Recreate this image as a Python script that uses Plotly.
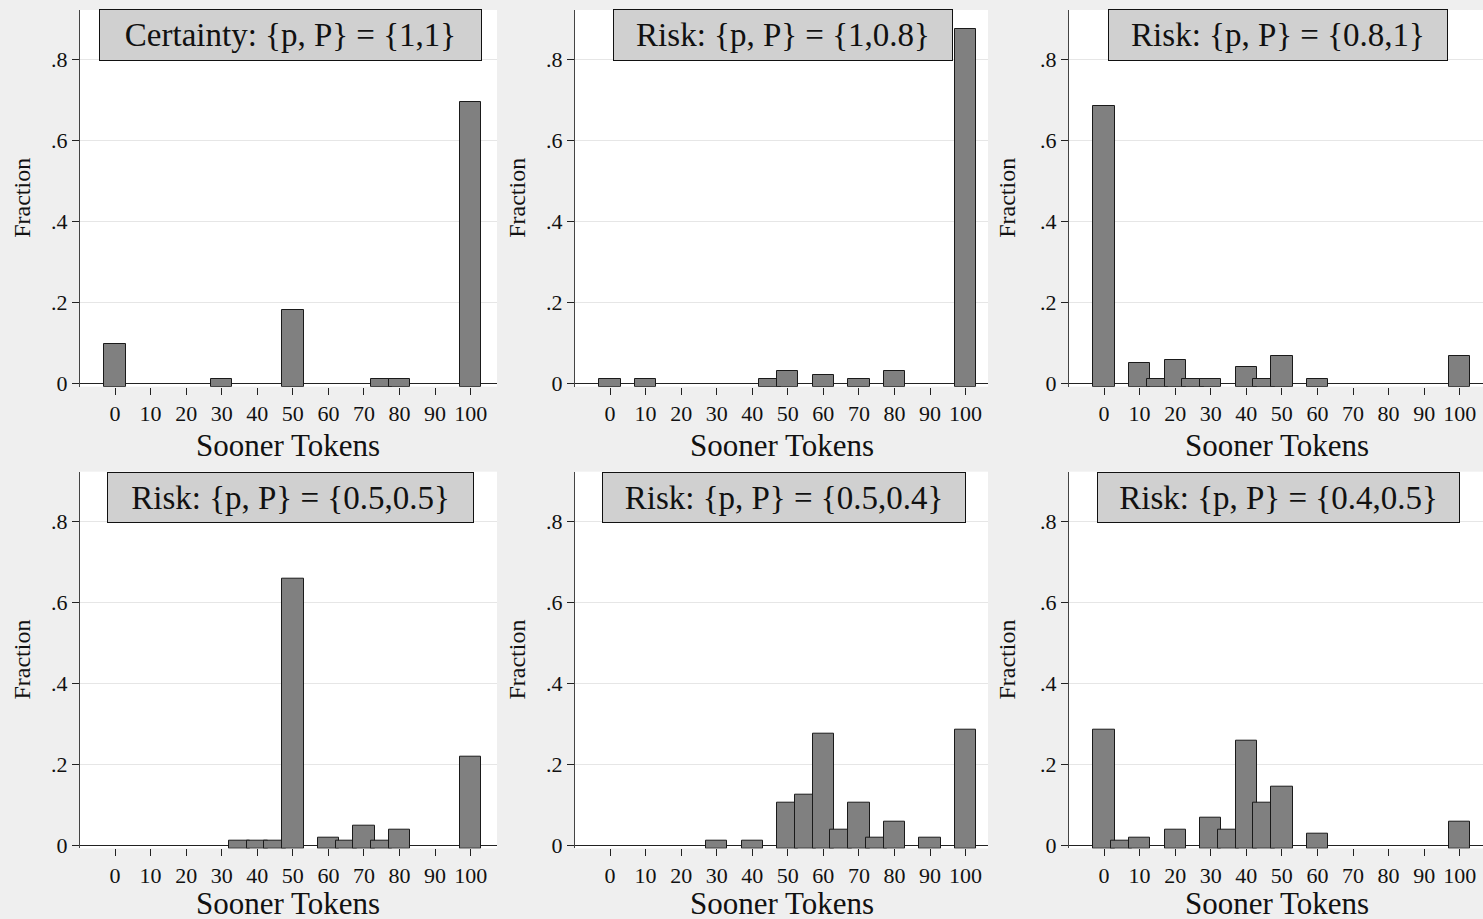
import plotly.graph_objects as go

# ---------------- data ----------------
panel_titles = [
    "Certainty: {p, P} = {1,1}",
    "Risk: {p, P} = {1,0.8}",
    "Risk: {p, P} = {0.8,1}",
    "Risk: {p, P} = {0.5,0.5}",
    "Risk: {p, P} = {0.5,0.4}",
    "Risk: {p, P} = {0.4,0.5}",
]

p1_tokens = [0, 30, 50, 75, 80, 100]
p1_frac = [0.097, 0.010, 0.181, 0.010, 0.010, 0.695]

p2_tokens = [0, 10, 45, 50, 60, 70, 80, 100]
p2_frac = [0.010, 0.010, 0.010, 0.030, 0.020, 0.010, 0.030, 0.875]

p3_tokens = [0, 10, 15, 20, 25, 30, 40, 45, 50, 60, 100]
p3_frac = [0.685, 0.049, 0.010, 0.058, 0.010, 0.010, 0.040, 0.010, 0.067, 0.010, 0.067]

p4_tokens = [35, 40, 45, 50, 60, 65, 70, 75, 80, 100]
p4_frac = [0.010, 0.010, 0.010, 0.657, 0.019, 0.010, 0.047, 0.010, 0.039, 0.219]

p5_tokens = [30, 40, 50, 55, 60, 65, 70, 75, 80, 90, 100]
p5_frac = [0.010, 0.010, 0.105, 0.125, 0.276, 0.039, 0.105, 0.019, 0.058, 0.019, 0.286]

p6_tokens = [0, 5, 10, 20, 30, 35, 40, 45, 50, 60, 100]
p6_frac = [0.286, 0.010, 0.019, 0.039, 0.067, 0.039, 0.257, 0.105, 0.143, 0.029, 0.058]

x_tick_vals = [0, 10, 20, 30, 40, 50, 60, 70, 80, 90, 100]
y_tick_vals = [0, 0.2, 0.4, 0.6, 0.8]
y_tick_text = ["0", ".2", ".4", ".6", ".8"]

x_title = "Sooner Tokens"
y_title = "Fraction"

panels = [
    (p1_tokens, p1_frac), (p2_tokens, p2_frac), (p3_tokens, p3_frac),
    (p4_tokens, p4_frac), (p5_tokens, p5_frac), (p6_tokens, p6_frac),
]

# ---------------- style / layout ----------------
W, H = 1483, 919          # reference frame used for positions
FIG_H = 928               # page height that fills the capture area
FONT = "Liberation Serif"
BAR_WIDTH = 6
BAR_BASE = -0.0084
Y_RANGE = [-0.0084, 0.922]

col_px = [(80, 497), (575, 988), (1069, 1483)]
row_px = [(10, 386.7), (471.7, 848.4)]
x_ranges = [[-9.85, 107.4], [-9.85, 106.3], [-9.85, 106.55]]
box_px = [  # (center x, width, top y, height)
    (290.5, 383, 9, 52), (783, 340, 9, 52), (1278, 340, 9, 52),
    (290.8, 367, 471.7, 51), (783.7, 364, 471.7, 51), (1278.3, 363, 471.7, 51),
]
ytitle_x = [22.5, 517.5, 1007.5]
xtitle_x = [287.5, 781.5, 1276.5]
xtitle_y = [445, 903]

fig = go.Figure()
annotations = []
layout_axes = {}

for i, (tok, frac) in enumerate(panels):
    r, c = divmod(i, 3)
    n = i + 1
    xa = "x" if n == 1 else f"x{n}"
    ya = "y" if n == 1 else f"y{n}"
    fig.add_trace(go.Bar(
        x=tok,
        y=[f - BAR_BASE for f in frac],
        base=BAR_BASE,
        width=BAR_WIDTH,
        marker=dict(color="#808080", line=dict(color="#1a1a1a", width=1)),
        xaxis=xa, yaxis=ya, showlegend=False,
        customdata=frac,
        hovertemplate="%{x}: %{customdata}<extra></extra>",
    ))
    x0, x1 = col_px[c]
    yt, yb = row_px[r]
    xkey = "xaxis" if n == 1 else f"xaxis{n}"
    ykey = "yaxis" if n == 1 else f"yaxis{n}"
    layout_axes[xkey] = dict(
        domain=[x0 / W, x1 / W], range=x_ranges[c], anchor=ya,
        tickvals=x_tick_vals, ticks="outside", ticklen=7, tickcolor="#222",
        showgrid=False, zeroline=False, showline=False,
        tickfont=dict(family=FONT, size=22, color="#111"),
        fixedrange=True,
    )
    layout_axes[ykey] = dict(
        domain=[(H - yb) / H, (H - yt) / H], range=Y_RANGE, anchor=xa,
        tickvals=y_tick_vals, ticktext=y_tick_text, ticks="outside", ticklen=7,
        tickcolor="#222", showline=True, linecolor="#444", linewidth=1,
        showgrid=True, gridcolor="#e6e6e6", gridwidth=1,
        zeroline=True, zerolinecolor="#222", zerolinewidth=1,
        tickfont=dict(family=FONT, size=22, color="#111"),
        fixedrange=True,
    )
    bx, bw, bt, bh = box_px[i]
    annotations.append(dict(
        text=panel_titles[i], xref="paper", yref="paper",
        x=bx / W, y=(H - bt) / H, xanchor="center", yanchor="top",
        width=bw - 2, height=bh - 2, borderpad=0, borderwidth=1,
        bordercolor="#111", bgcolor="#d0d0d0", showarrow=False,
        align="center", valign="middle",
        font=dict(family=FONT, size=33, color="#111"),
    ))
    annotations.append(dict(
        text=y_title, xref="paper", yref="paper",
        x=ytitle_x[c] / W, y=(H - (yt + yb) / 2) / H,
        xanchor="center", yanchor="middle", textangle=-90, showarrow=False,
        font=dict(family=FONT, size=24, color="#111"),
    ))
    annotations.append(dict(
        text=x_title, xref="paper", yref="paper",
        x=xtitle_x[c] / W, y=(H - xtitle_y[r]) / H,
        xanchor="center", yanchor="middle", showarrow=False,
        font=dict(family=FONT, size=31, color="#111"),
    ))

fig.update_layout(
    width=W, height=FIG_H,
    margin=dict(l=0, r=0, t=0, b=0),
    paper_bgcolor="#efefef", plot_bgcolor="#ffffff",
    bargap=0, barmode="overlay",
    annotations=annotations,
    **layout_axes,
)

page_css = (
    "var de=document.documentElement, b=document.body;"
    "de.style.margin='0';de.style.padding='0';de.style.overflow='hidden';"
    "de.style.background='#efefef';"
    "b.style.margin='0';b.style.padding='0';b.style.overflow='hidden';"
    "b.style.background='#efefef';"
)

fig.write_html(
    "out.html",
    config={"displayModeBar": False},
    post_script=page_css,
)
